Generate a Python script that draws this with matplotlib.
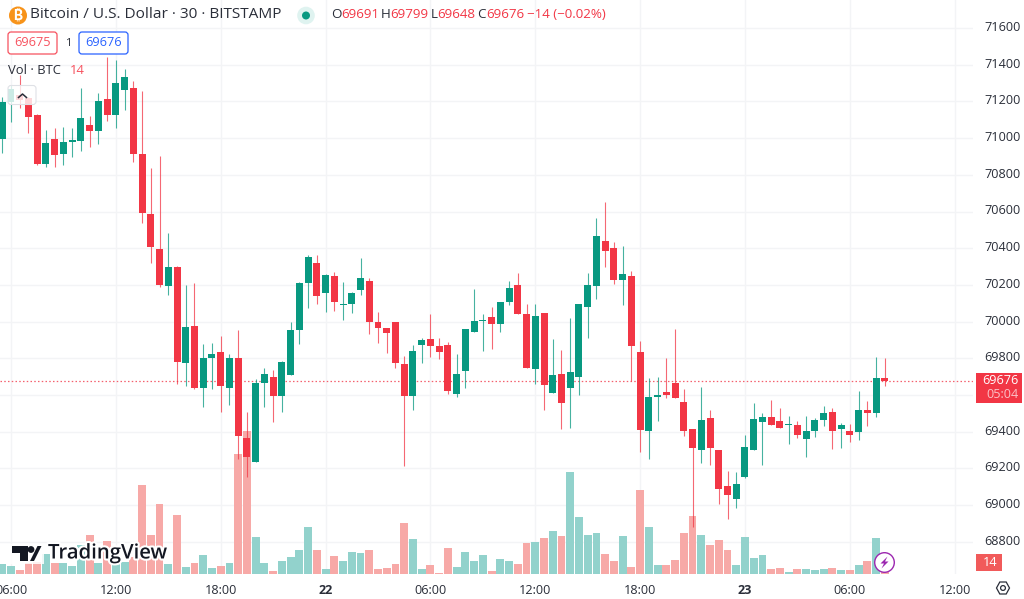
import matplotlib
matplotlib.use("Agg")
import matplotlib.pyplot as plt
from matplotlib.patches import Circle, FancyBboxPatch, Polygon, Rectangle
from matplotlib.transforms import ScaledTranslation
import matplotlib.patheffects as pe

FONT = "Open Sans"
plt.rcParams["font.family"] = [FONT, "DejaVu Sans"]

# --- data (30-minute candles, first bar 05:30) -----------------------------
first_index = -1
highs = [71226,71289,71344,71226,71131,71044,71053,71061,71053,71271,71119,71244,71440,71426,71378,71311,71257,70835,70902,70481,
         70303,70201,70212,69878,69882,69923,69822,69954,69509,69686,69749,69738,69785,69998,70216,70363,70363,70259,70269,70214,
         70161,70348,70236,70051,69965,69998,69814,69872,69909,70040,69909,69887,69825,69960,70176,70040,70078,70107,70220,70263,
         70094,70094,70047,69903,69847,70018,70096,70263,70563,70653,70435,70410,70277,69894,69694,69696,69800,69958,69631,69415,
         69642,69518,69300,69186,69179,69380,69555,69500,69574,69527,69485,69458,69485,69475,69540,69527,69446,69440,69622,69566,
         69809,69800]
lows = [70920,71089,71164,71030,70856,70844,70842,70853,70899,70931,70950,70966,71093,71055,71153,70870,70539,70318,70187,70145,
        69661,69651,69635,69533,69634,69507,69544,69251,69155,69235,69536,69453,69507,69709,69878,70072,70096,70054,70059,70009,
        70045,70147,69932,69882,69827,69749,69215,69518,69773,69805,69795,69607,69591,69636,69941,69841,69852,69945,70090,70040,
        69747,69658,69518,69611,69416,69422,69602,69912,70125,70299,70203,70090,69676,69291,69251,69460,69585,69584,69377,68882,
        69228,69218,69006,68922,68986,69150,69300,69218,69436,69418,69333,69367,69262,69369,69431,69304,69309,69345,69355,69431,
        69478,69648]
opens = [70995,71198,71235,71220,71126,70857,70993,70912,70980,70986,71071,71037,71213,71126,71261,71271,70913,70586,70396,70196,
         70299,69773,69974,69640,69800,69834,69636,69800,69364,69236,69667,69700,69594,69711,69953,70209,70318,70157,70248,70090,
         70096,70172,70220,69998,69963,69996,69770,69596,69872,69905,69869,69872,69604,69731,69942,70005,70023,69988,70105,70198,
         70043,69742,70045,69612,69714,69640,69698,70081,70192,70439,70403,70227,70248,69834,69402,69591,69615,69664,69563,69413,
         69300,69475,69299,69102,69035,69151,69302,69453,69478,69458,69436,69435,69362,69404,69462,69506,69413,69404,69397,69518,
         69500,69691]
closes = [71195,71268,71208,71113,70861,70975,70910,70977,70988,71108,71037,71202,71126,71299,71335,70915,70590,70407,70199,70296,
          69781,69970,69640,69800,69822,69651,69802,69376,69260,69665,69716,69594,69781,69953,70212,70350,70139,70254,70108,70097,
          70157,70236,69998,69965,69939,69773,69593,69840,69901,69865,69833,69622,69716,69958,70005,70010,69988,70105,70181,70041,
          69749,70030,69653,69711,69558,69727,70094,70198,70467,70386,70225,70259,69865,69409,69591,69602,69602,69585,69404,69313,
          69465,69309,69088,69055,69116,69318,69467,69478,69438,69420,69443,69380,69402,69462,69502,69402,69438,69380,69518,69500,
          69693,69676]
volumes = [78,64,32,86,96,158,86,88,66,232,310,88,262,216,96,136,710,310,560,82,
           472,56,90,152,50,64,90,958,1144,296,88,26,104,136,194,376,192,40,146,104,
           176,166,190,40,50,80,406,278,42,74,10,206,58,174,106,152,26,122,104,82,
           250,256,290,342,304,816,456,312,326,162,104,304,58,672,376,72,72,114,328,466,
           314,234,272,194,74,298,128,154,42,50,18,42,38,34,38,46,30,34,72,102,
           290,14]
price_ticks = [68800,69000,69200,69400,69600,69800,70000,70200,70400,70600,70800,71000,71200,71400,71600]
hidden_price_labels = [69600]
time_positions = [0,12,24,36,48,60,72,84,96,108]
time_labels = ["06:00","12:00","18:00","22","06:00","12:00","18:00","23","06:00","12:00"]
bold_time_labels = ["22","23"]
last_price = 69676
header_segments = [("O",331,"#2a2e39"),("69691",341.5,"#f23645"),("H",381,"#2a2e39"),("69799",390.5,"#f23645"),
                   ("L",430.5,"#2a2e39"),("69648",437.5,"#f23645"),("C",477.5,"#2a2e39"),("69676",486.5,"#f23645"),
                   ("\u221214 (\u22120.02%)",527,"#f23645")]

# --- layout ----------------------------------------------------------------
W, H = 1024, 599
PLOT_R, PLOT_B = 973, 574
UP, DOWN = "#089981", "#f23645"
VUP, VDOWN = "#92d2cc", "#f7a9a7"
GRID = "#f3f4f6"
TXT = "#2a2e39"
px0 = 11.0; step = 8.738
xlim = ((0 - px0) / step, (PLOT_R - px0) / step)
ylim = (71752.7 - 5.45 * PLOT_B, 71752.7)
vol_per_px = 8.0
n = len(closes)
xs = [first_index + k for k in range(n)]
pos = [0, 1 - PLOT_B / H, PLOT_R / W, PLOT_B / H]
fig = plt.figure(figsize=(W / 100, H / 100), dpi=100, facecolor="white")

base = fig.add_axes(pos, zorder=0)
base.set_xlim(xlim); base.set_ylim(ylim)
base.set_yticks(price_ticks)
base.set_yticklabels(["" if p in hidden_price_labels else str(p) for p in price_ticks])
base.yaxis.tick_right()
base.tick_params(axis="y", length=0, pad=8.4, labelsize=9.1, labelcolor=TXT)
lift = ScaledTranslation(0, 1.5 / 72, fig.dpi_scale_trans)
for lab in base.get_yticklabels():
    lab.set_transform(lab.get_transform() + lift)
base.set_xticks(time_positions)
base.set_xticklabels(time_labels)
base.tick_params(axis="x", length=0, pad=7.5, labelsize=9.1, labelcolor=TXT)
for lab in base.get_xticklabels():
    if lab.get_text() in bold_time_labels:
        lab.set_fontweight("bold")
base.grid(True, color=GRID, lw=1.0)
base.set_axisbelow(True)
for s in base.spines.values():
    s.set_visible(False)

vol = fig.add_axes(pos, zorder=1, facecolor="none")
vol.set_xlim(xlim); vol.set_ylim(0, PLOT_B * vol_per_px); vol.axis("off")
vol.bar(xs, volumes, width=0.9, color=[VUP if c >= o else VDOWN for o, c in zip(opens, closes)], lw=0)

pr = fig.add_axes(pos, zorder=2, facecolor="none")
pr.set_xlim(xlim); pr.set_ylim(ylim); pr.axis("off")
cols = [UP if c >= o else DOWN for o, c in zip(opens, closes)]
pr.vlines(xs, lows, highs, colors=cols, lw=0.8, alpha=0.75, zorder=2)
pr.bar(xs, [abs(c - o) for o, c in zip(opens, closes)], bottom=[min(o, c) for o, c in zip(opens, closes)],
       width=0.8, color=cols, lw=0, zorder=3)
pr.axhline(last_price, color="#f4606e", lw=0.9, ls=(0, (1.2, 1.8)), zorder=1)

# --- chart chrome, in pixel coordinates ------------------------------------
ui = fig.add_axes([0, 0, 1, 1], zorder=5, facecolor="none")
ui.set_xlim(0, W); ui.set_ylim(H, 0); ui.axis("off")

def label(x, y, s, size=9.1, color=TXT, ha="left", weight="normal", **kw):
    return ui.text(x, y, s, fontsize=size, color=color, ha=ha, va="center", fontweight=weight, **kw)

ui.add_patch(Circle((18, 15.5), 9, color="#f7931a", lw=0))
label(18, 15.5, "\u20bf", size=10, color="white", ha="center", family=["Inter", "Noto Sans", "Roboto", "Lato", "DejaVu Sans"], weight="bold")
label(30, 15, "Bitcoin / U.S. Dollar \u00b7 30 \u00b7 BITSTAMP", size=11.05)
ui.add_patch(Circle((306, 15.5), 8.8, color="#dff3f0", lw=0))
ui.add_patch(Circle((306, 15.5), 4, color=UP, lw=0))
for s, x, c in header_segments:
    label(x, 15, s, size=9.6, color=c)

for x0, x1, c, s in [(8, 57, "#f7525f", "69675"), (79, 128, "#2962ff", "69676")]:
    ui.add_patch(FancyBboxPatch((x0, 32), x1 - x0, 22, boxstyle="round,pad=0,rounding_size=3", fc="white", ec=c, lw=0.9))
    label((x0 + x1) / 2, 43, s, size=9.2, color=c, ha="center")
label(68, 43.5, "1", size=8, ha="center")
label(8, 71, "Vol \u00b7 BTC", size=9.4)
label(70, 71, "14", size=9.4, color="#f7525f")
ui.add_patch(FancyBboxPatch((8, 85.5), 28, 19, boxstyle="round,pad=0,rounding_size=3", fc=(1, 1, 1, 0.8), ec="#dfe1e6", lw=0.8))
ui.plot([18.5, 22.5, 26.5], [97.5, 94, 97.5], color=TXT, lw=1.1)

# last price boxes
ui.add_patch(Rectangle((976, 372.5), 46, 30.5, color="#f23645", lw=0))
label(1018.5, 380.5, "69676", color="white", ha="right")
label(1018.5, 394.5, "05:04", color="#fbc0c6", ha="right")
ui.add_patch(Rectangle((976, 554), 26, 17, color="#f15a5a", lw=0))
label(990, 562.5, "14", color="white", ha="center")

# lightning badge
ui.add_patch(Circle((884.5, 562.5), 9.8, fc="white", ec="#9c27b0", lw=1.0))
ui.add_patch(Polygon([(887.5, 556.5), (880.5, 563.5), (884, 563.5), (881.5, 568.5), (888.5, 561.5), (885, 561.5)], color="#9c27b0", lw=0))

# settings hexagon
ui.add_patch(Polygon([(996.5, 588), (999.8, 582), (1006.2, 582), (1009.5, 588), (1006.2, 594), (999.8, 594)], fill=False, ec=TXT, lw=0.9))
ui.add_patch(Circle((1003, 588), 2.4, fill=False, ec=TXT, lw=0.9))

# TradingView watermark
halo = [pe.withStroke(linewidth=3, foreground="white")]
logo = "#131722"
ui.add_patch(Rectangle((10, 544), 34, 20, color="white", lw=0, alpha=0.85))
ui.add_patch(Polygon([(11.5, 546), (27.5, 546), (27.5, 561), (20, 561), (20, 553), (11.5, 553)], color=logo, lw=0))
ui.add_patch(Circle((31, 549.5), 3.4, color=logo, lw=0))
ui.add_patch(Polygon([(30, 561), (37.5, 546), (41.5, 546), (34, 561)], color=logo, lw=0))
label(48, 553.5, "TradingView", size=14.6, color=logo, weight="semibold", path_effects=halo)

fig.savefig("out.png", dpi=100)
